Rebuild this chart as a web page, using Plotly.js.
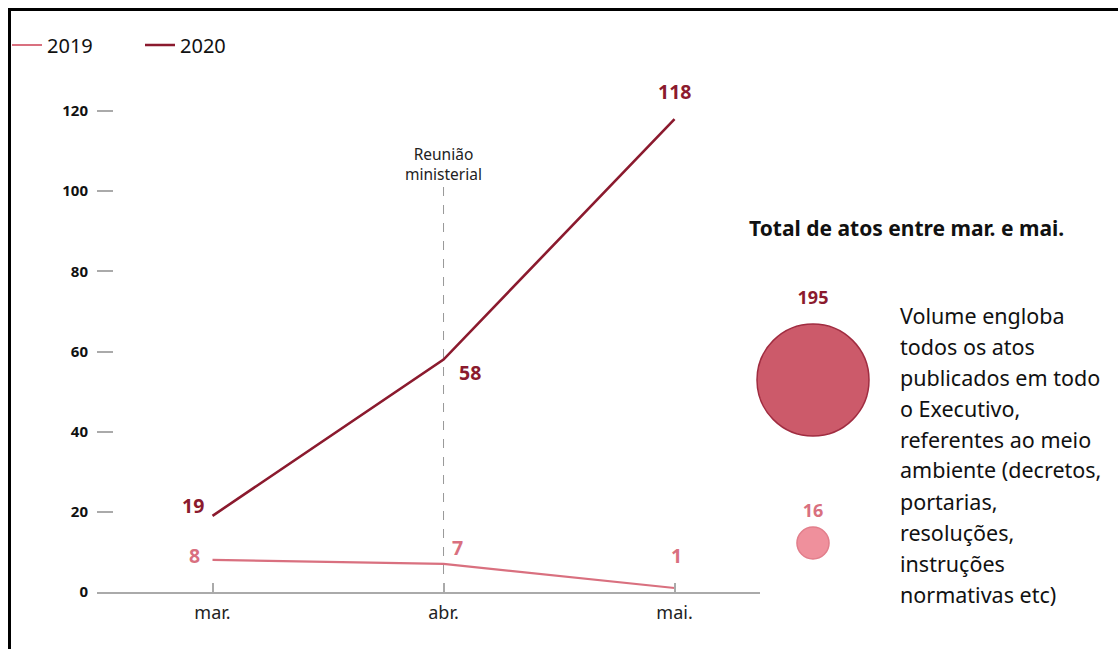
<!DOCTYPE html>
<html>
<head>
<meta charset="utf-8">
<script src="https://cdn.plot.ly/plotly-3.0.1.min.js"></script>
<style>
  html, body { margin: 0; padding: 0; background: #fff; }
  #chart { width: 1118px; height: 649px; }
  #frame { position: absolute; left: 8px; top: 8px; width: 1200px; height: 800px;
           border-left: 3px solid #000; border-top: 3px solid #000; pointer-events: none; }
</style>
</head>
<body>
<div id="chart"></div>
<div id="frame"></div>
<script>
// ---- data ----
const months = ['mar.', 'abr.', 'mai.'];
const atos2019 = [8, 7, 1];
const atos2020 = [19, 58, 118];
const totalLabels = ['2020', '2019'];
const totalValues = [195, 16];
const yTicks = [0, 20, 40, 60, 80, 100, 120];
const eventMonth = 'abr.';
const eventLabel = 'Reunião<br>ministerial';
const totalTitle = 'Total de atos entre mar. e mai.';
const noteLines = ['Volume engloba', 'todos os atos', 'publicados em todo', 'o Executivo,',
  'referentes ao meio', 'ambiente (decretos,', 'portarias,', 'resoluções,', 'instruções', 'normativas etc)'];

// ---- styles ----
const C2020 = '#8b1a2e', C2019 = '#d9707f';
const FONT = 'Noto Sans, Open Sans, sans-serif';
const W = 1118, H = 649, ML = 97, MR = 10, MT = 71, MB = 57;
const PW = W - ML - MR, PH = H - MT - MB;
const px2x = p => (p - ML) / PW;
const px2y = p => (H - MB - p) / PH;

const traces = [
  { x: months, y: atos2019, name: '2019', type: 'scatter', mode: 'lines',
    line: { color: C2019, width: 2.2 }, xaxis: 'x', yaxis: 'y', hoverinfo: 'x+y' },
  { x: months, y: atos2020, name: '2020', type: 'scatter', mode: 'lines',
    line: { color: C2020, width: 2.6 }, xaxis: 'x', yaxis: 'y', hoverinfo: 'x+y' },
  { x: totalLabels.map(() => 'total'), y: totalLabels, type: 'scatter', mode: 'markers+text',
    text: totalValues.map(String), textposition: 'top center',
    textfont: { family: FONT, size: 18, color: [C2020, C2019], weight: 700 },
    marker: { size: totalValues, sizemode: 'area', sizeref: 2 * 195 / (112 * 112),
              color: ['#cc5a6a', '#ef909c'], line: { color: ['#a02c40', '#e27e8b'], width: 1.5 }, opacity: 1 },
    xaxis: 'x2', yaxis: 'y2', showlegend: false, cliponaxis: false, hoverinfo: 'text' }
];

// data labels
const annotations = [];
const off2020 = [[-20, 10], [26, -13], [0, 28]];
const off2019 = [[-18, 4], [14, 16], [2, 32]];
months.forEach((m, i) => {
  annotations.push({ x: m, y: atos2020[i], xref: 'x', yref: 'y', text: String(atos2020[i]),
    showarrow: false, xshift: off2020[i][0], yshift: off2020[i][1],
    font: { family: FONT, size: 19.5, color: C2020, weight: 700 } });
  annotations.push({ x: m, y: atos2019[i], xref: 'x', yref: 'y', text: String(atos2019[i]),
    showarrow: false, xshift: off2019[i][0], yshift: off2019[i][1],
    font: { family: FONT, size: 19.5, color: C2019, weight: 700 } });
});
annotations.push({ x: eventMonth, y: 101.5, xref: 'x', yref: 'y', text: eventLabel,
  showarrow: false, yanchor: 'bottom', yshift: -2,
  font: { family: FONT, size: 15.5, color: '#222' } });
annotations.push({ x: px2x(747), y: px2y(228), xref: 'paper', yref: 'paper', text: '<b>' + totalTitle + '</b>',
  showarrow: false, xanchor: 'left', yanchor: 'middle',
  font: { family: FONT, size: 21, color: '#111' } });
noteLines.forEach((t, i) => {
  annotations.push({ x: px2x(898), y: px2y(315 + i * 31), xref: 'paper', yref: 'paper', text: t,
    showarrow: false, xanchor: 'left', yanchor: 'middle',
    font: { family: FONT, size: 21.5, color: '#111' } });
});

const layout = {
  width: W, height: H,
  margin: { l: ML, r: MR, t: MT, b: MB, autoexpand: false },
  paper_bgcolor: '#fff', plot_bgcolor: '#fff',
  font: { family: FONT },
  showlegend: true,
  legend: { orientation: 'h', x: px2x(7), y: px2y(45), xanchor: 'left', yanchor: 'middle',
            font: { family: FONT, size: 20, color: '#111' }, itemwidth: 30, entrywidth: 88, tracegroupgap: 0 },
  xaxis: { domain: [0, px2x(760)], type: 'category', categoryorder: 'array', categoryarray: months,
           range: [-0.5, 2.37], showgrid: false, zeroline: false, automargin: false,
           showline: true, linecolor: '#aaa', linewidth: 2,
           ticks: 'inside', ticklen: 9, tickwidth: 2, tickcolor: '#aaa',
           tickfont: { family: FONT, size: 18, color: '#222' }, ticklabelstandoff: 3, fixedrange: true },
  yaxis: { range: [0, 130], tickvals: yTicks, showgrid: false, zeroline: false, showline: false, automargin: false,
           ticks: 'inside', ticklen: 16, tickwidth: 1.5, tickcolor: '#aaa',
           tickfont: { family: FONT, size: 15, color: '#111', weight: 700 }, ticklabelstandoff: 8, fixedrange: true },
  xaxis2: { domain: [px2x(790), px2x(836)], type: 'category', range: [-0.5, 0.5], visible: false, fixedrange: true, anchor: 'y2' },
  yaxis2: { domain: [px2y(543 + 0.2 * 163), px2y(380 - 0.2 * 163)], type: 'category', categoryorder: 'array',
            categoryarray: ['2019', '2020'], range: [-0.2, 1.2], visible: false, fixedrange: true, anchor: 'x2' },
  shapes: [{ type: 'line', xref: 'x', yref: 'y', x0: eventMonth, x1: eventMonth, y0: 0, y1: 101.5,
             line: { color: '#999', width: 1, dash: 'dash' }, layer: 'below' }],
  annotations: annotations
};

Plotly.newPlot('chart', traces, layout, { displayModeBar: false });
</script>
</body>
</html>
